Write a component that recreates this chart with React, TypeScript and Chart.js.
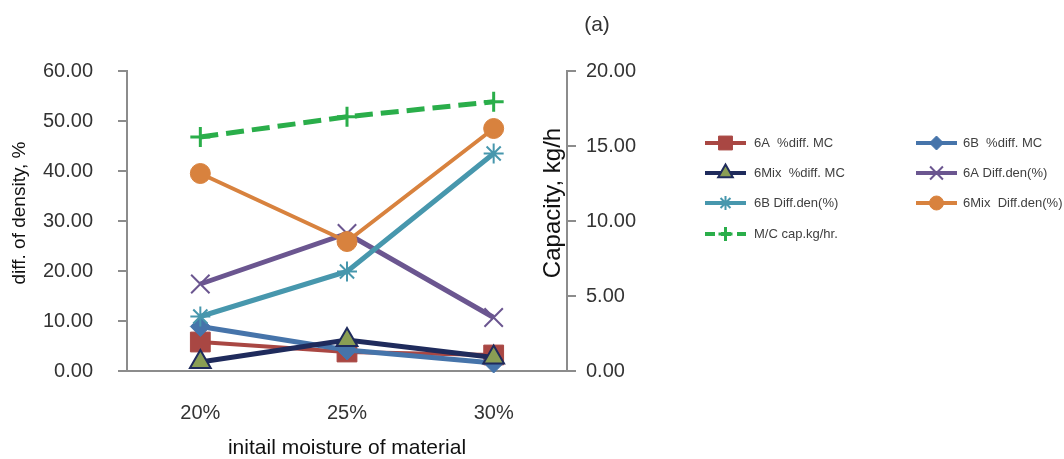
import React, { useEffect, useRef } from 'react';
import { Chart, registerables } from 'chart.js';
import { drawPoint } from 'chart.js/helpers';

Chart.register(...registerables);

// ---- data ----
const categories = ['20%', '25%', '30%'];
const a6DiffMC = [5.8, 3.8, 3.2];
const b6DiffMC = [8.9, 4.2, 1.6];
const mix6DiffMC = [1.8, 6.2, 2.7];
const a6DiffDen = [17.4, 27.5, 10.7];
const b6DiffDen = [10.9, 19.9, 43.5];
const mix6DiffDen = [39.5, 25.9, 48.5];
const mcCapacity = [15.6, 16.95, 17.95];

const seriesLabels = [
  '6A  %diff. MC',
  '6B  %diff. MC',
  '6Mix  %diff. MC',
  '6A Diff.den(%)',
  '6B Diff.den(%)',
  '6Mix  Diff.den(%)',
  'M/C cap.kg/hr.',
];

const leftAxisTitle = 'diff. of density, %';
const rightAxisTitle = 'Capacity, kg/h';
const xAxisTitle = 'initail moisture of material';
const panelLabel = '(a)';

const FONT = "'Liberation Sans', Arial, Helvetica, sans-serif";
const TEXT = '#333333';
const AXIS = '#8c8c8c';

const overlayPlugin = {
  id: 'overlay',
  afterDraw(chart: any) {
    const ctx: CanvasRenderingContext2D = chart.ctx;
    ctx.save();
    ctx.fillStyle = TEXT;
    ctx.textAlign = 'center';
    ctx.textBaseline = 'middle';
    ctx.font = `21px ${FONT}`;
    ctx.fillText(panelLabel, 597, 25);

    ctx.save();
    ctx.translate(553, 203);
    ctx.rotate(-Math.PI / 2);
    ctx.font = `24px ${FONT}`;
    ctx.fillStyle = '#111111';
    ctx.fillText(rightAxisTitle, 0, 0);
    ctx.restore();

    ctx.save();
    ctx.translate(20, 213);
    ctx.rotate(-Math.PI / 2);
    ctx.font = `19px ${FONT}`;
    ctx.fillStyle = '#111111';
    ctx.fillText(leftAxisTitle, 0, 0);
    ctx.restore();

    // legend
    const colX = [705, 916];
    const textX = [754, 963];
    const rowY = [143, 173, 203, 234];
    chart.data.datasets.forEach((ds: any, i: number) => {
      const col = i % 2;
      const row = Math.floor(i / 2);
      const x0 = colX[col];
      const y = rowY[row];
      ctx.save();
      ctx.strokeStyle = ds.borderColor;
      ctx.lineWidth = 4;
      ctx.setLineDash(ds.borderDash ? [10, 6] : []);
      ctx.beginPath();
      ctx.moveTo(x0, y);
      ctx.lineTo(x0 + 41, y);
      ctx.stroke();
      ctx.setLineDash([]);
      ctx.fillStyle = ds.pointBackgroundColor;
      ctx.strokeStyle = ds.pointBorderColor;
      ctx.lineWidth = ds.pointBorderWidth;
      drawPoint(ctx, {
        pointStyle: ds.pointStyle,
        rotation: 0,
        radius: ds.pointRadius * 0.7,
        borderWidth: ds.pointBorderWidth,
      } as any, x0 + 20.5, y);
      ctx.restore();
      ctx.fillStyle = '#404040';
      ctx.font = `13px ${FONT}`;
      ctx.textAlign = 'left';
      ctx.textBaseline = 'middle';
      ctx.fillText(ds.label, textX[col], y);
    });
    ctx.restore();
  },
};

function series(
  label: string,
  data: number[],
  color: string,
  pointStyle: string,
  pointRadius: number,
  extra: any = {}
) {
  return {
    label,
    data,
    borderColor: color,
    backgroundColor: color,
    pointBackgroundColor: color,
    pointBorderColor: color,
    pointBorderWidth: 1,
    borderWidth: 5,
    pointStyle,
    pointRadius,
    pointHoverRadius: pointRadius,
    tension: 0,
    clip: false,
    yAxisID: 'y',
    ...extra,
  };
}

export default function App() {
  const ref = useRef<HTMLCanvasElement>(null);

  useEffect(() => {
    const datasets: any[] = [
      series(seriesLabels[0], a6DiffMC, '#A94743', 'rect', 14, { borderWidth: 4 }),
      series(seriesLabels[1], b6DiffMC, '#4674AA', 'rectRot', 10),
      series(seriesLabels[2], mix6DiffMC, '#1F2B5C', 'triangle', 12, {
        pointBackgroundColor: '#8A9E54',
        pointBorderColor: '#1F2B5C',
        pointBorderWidth: 2,
      }),
      series(seriesLabels[3], a6DiffDen, '#6B5690', 'crossRot', 13, { pointBorderWidth: 2 }),
      series(seriesLabels[4], b6DiffDen, '#4797AD', 'star', 10, { pointBorderWidth: 2 }),
      series(seriesLabels[5], mix6DiffDen, '#D8823E', 'circle', 10, { borderWidth: 4 }),
      series(seriesLabels[6], mcCapacity, '#2AAE4A', 'cross', 10, {
        pointBorderWidth: 3,
        borderDash: [18, 8],
        yAxisID: 'y1',
      }),
    ];
    datasets.forEach((d, i) => (d.order = datasets.length - i));

    const chart = new Chart(ref.current as HTMLCanvasElement, {
      type: 'line',
      data: { labels: categories, datasets },
      plugins: [overlayPlugin],
      options: {
        responsive: false,
        animation: false,
        devicePixelRatio: 1,
        layout: { padding: { top: 71, left: 0, right: 0, bottom: 0 } },
        plugins: {
          legend: { display: false },
          tooltip: { enabled: false },
          title: { display: false },
        },
        scales: {
          x: {
            type: 'category',
            offset: true,
            afterFit: (s: any) => { s.height = 88; },
            grid: { display: false, drawTicks: false },
            border: { display: true, color: AXIS, width: 2 },
            ticks: { padding: 30, color: TEXT, font: { family: FONT, size: 20 } },
            title: {
              display: true,
              text: xAxisTitle,
              color: '#111111',
              font: { family: FONT, size: 21 },
              padding: { top: 0, bottom: -2 },
            },
          },
          y: {
            position: 'left',
            min: 0,
            max: 60,
            afterFit: (s: any) => { s.width = 127; },
            grid: { drawOnChartArea: false, drawTicks: true, tickLength: 9, color: AXIS, lineWidth: 2 },
            border: { display: true, color: AXIS, width: 2 },
            ticks: {
              stepSize: 10,
              padding: 25,
              color: TEXT,
              font: { family: FONT, size: 20 },
              callback: (v: any) => Number(v).toFixed(2),
            },
          },
          y1: {
            position: 'right',
            min: 0,
            max: 20,
            afterFit: (s: any) => { s.width = 497; },
            grid: { drawOnChartArea: false, drawTicks: true, tickLength: 9, color: AXIS, lineWidth: 2 },
            border: { display: true, color: AXIS, width: 2 },
            ticks: {
              stepSize: 5,
              padding: 10,
              color: TEXT,
              font: { family: FONT, size: 20 },
              callback: (v: any) => Number(v).toFixed(2),
            },
          },
        },
      } as any,
    });
    return () => chart.destroy();
  }, []);

  return (
    <div style={{ position: 'absolute', left: 0, top: 0, width: 1064, height: 459, background: '#ffffff' }}>
      <canvas ref={ref} width={1064} height={459} style={{ display: 'block' }} />
    </div>
  );
}
